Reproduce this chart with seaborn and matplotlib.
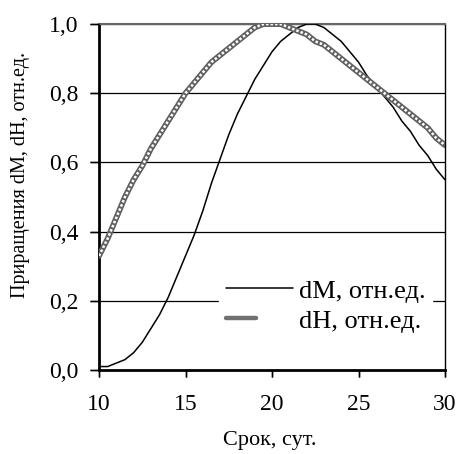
import matplotlib
matplotlib.use("Agg")
import matplotlib.pyplot as plt
from matplotlib.legend_handler import HandlerTuple
from matplotlib.lines import Line2D, TICKDOWN, TICKLEFT
import seaborn as sns
import pandas as pd

# Day of observation
days = [10.0, 10.5, 11.0, 11.5, 12.0, 12.5, 13.0, 13.5, 14.0, 14.5,
        15.0, 15.5, 16.0, 16.5, 17.0, 17.5, 18.0, 18.5, 19.0, 19.5,
        20.0, 20.5, 21.0, 21.5, 22.0, 22.5, 23.0, 23.5, 24.0, 24.5,
        25.0, 25.5, 26.0, 26.5, 27.0, 27.5, 28.0, 28.5, 29.0, 29.5, 30.0]

# Relative increments, rel. units
dM = [0.01, 0.01, 0.02, 0.03, 0.05, 0.08, 0.12, 0.16, 0.21, 0.27,
      0.33, 0.39, 0.46, 0.54, 0.61, 0.68, 0.74, 0.79, 0.84, 0.88,
      0.92, 0.95, 0.97, 0.99, 1.00, 1.00, 0.99, 0.97, 0.95, 0.92,
      0.89, 0.85, 0.82, 0.79, 0.76, 0.72, 0.69, 0.65, 0.62, 0.58, 0.55]
dH = [0.33, 0.38, 0.44, 0.50, 0.55, 0.59, 0.64, 0.68, 0.72, 0.76,
      0.80, 0.83, 0.86, 0.89, 0.91, 0.93, 0.95, 0.97, 0.99, 1.00,
      1.00, 1.00, 0.99, 0.98, 0.97, 0.95, 0.94, 0.92, 0.90, 0.88,
      0.86, 0.84, 0.82, 0.80, 0.78, 0.76, 0.74, 0.72, 0.70, 0.67, 0.65]

x_ticks = [10, 15, 20, 25, 30]
y_ticks = [0.0, 0.2, 0.4, 0.6, 0.8, 1.0]
label_m = "dM, отн.ед."
label_h = "dH, отн.ед."

df = pd.DataFrame({"day": days, "dM": dM, "dH": dH})

sns.set_theme(style="ticks")
plt.rcParams.update({
    "font.family": ["Liberation Serif", "DejaVu Serif"],
    "xtick.bottom": True, "ytick.left": True,
    "xtick.top": False, "ytick.right": False,
    "xtick.direction": "out", "ytick.direction": "out",
    "xtick.major.size": 5.0, "ytick.major.size": 6.5,
    "xtick.major.width": 1.0, "ytick.major.width": 1.0,
    "xtick.color": "black", "ytick.color": "black",
    "xtick.labelsize": 17, "ytick.labelsize": 17,
    "xtick.major.pad": 12, "ytick.major.pad": 8,
})

fig = plt.figure(figsize=(4.59, 4.54), dpi=100)
ax = fig.add_axes([0.2157, 0.185, 0.7538, 0.762])

for y in y_ticks[1:]:
    ax.axhline(y, color="black", lw=0.9, zorder=1)

sns.lineplot(data=df, x="day", y="dM", ax=ax, color="black", lw=1.1, zorder=3)
sns.lineplot(data=df, x="day", y="dH", ax=ax, color="#606060", lw=4.2, zorder=4)
sns.lineplot(data=df, x="day", y="dH", ax=ax, color="white", lw=1.8,
             linestyle=(0, (1.0, 0.8)), zorder=5)

ax.set_xlim(10, 30)
ax.set_ylim(0, 1.0)
ax.set_xticks(x_ticks)
ax.set_xticklabels([str(t) for t in x_ticks])
ax.set_yticks(y_ticks)
ax.set_yticklabels([f"{t:.1f}".replace(".", ",") for t in y_ticks])
ax.tick_params(axis="x", length=5, width=1, color="black", bottom=True)
ax.tick_params(axis="y", length=6.5, width=1, color="black", left=True)

# outward tick marks along the bottom and left edges
ax.plot(x_ticks, [0] * len(x_ticks), transform=ax.get_xaxis_transform(),
        linestyle="none", marker=TICKDOWN, markersize=5, markeredgewidth=1,
        color="black", clip_on=False, zorder=6)
ax.plot([0] * len(y_ticks), y_ticks, transform=ax.get_yaxis_transform(),
        linestyle="none", marker=TICKLEFT, markersize=6.5, markeredgewidth=1,
        color="black", clip_on=False, zorder=6)

ax.set_xlabel("Срок, сут.", fontsize=16, color="black")
ax.set_ylabel("Приращения dM, dH, отн.ед.", fontsize=14.5, color="black")
ax.xaxis.set_label_coords(0.494, -0.175)
ax.yaxis.set_label_coords(-0.2, 0.564)

for side in ["left", "bottom"]:
    ax.spines[side].set_visible(True)
    ax.spines[side].set_color("black")
    ax.spines[side].set_linewidth(2.0)
ax.spines["right"].set_visible(True)
ax.spines["right"].set_color("black")
ax.spines["right"].set_linewidth(1.0)
ax.spines["top"].set_visible(True)
ax.spines["top"].set_color("#666666")
ax.spines["top"].set_linewidth(1.5)

h_m = Line2D([], [], color="black", lw=1.1)
h_h = (Line2D([], [], color="#707070", lw=3.2),
       Line2D([], [], color="white", lw=1.4, linestyle=(0, (1.0, 1.2))))

leg = ax.legend([h_m, h_h], [label_m, label_h],
                handler_map={tuple: HandlerTuple(ndivide=None)},
                loc="upper right", bbox_to_anchor=(0.962, 0.282),
                frameon=True, fancybox=False, framealpha=1.0,
                edgecolor="white", facecolor="white", fontsize=19,
                handlelength=2.55, handletextpad=0.2, labelspacing=0.25,
                borderpad=0.25, borderaxespad=0.0)
leg.set_zorder(10)
for t in leg.get_texts():
    t.set_color("black")

fig.savefig("out.png", dpi=100)
